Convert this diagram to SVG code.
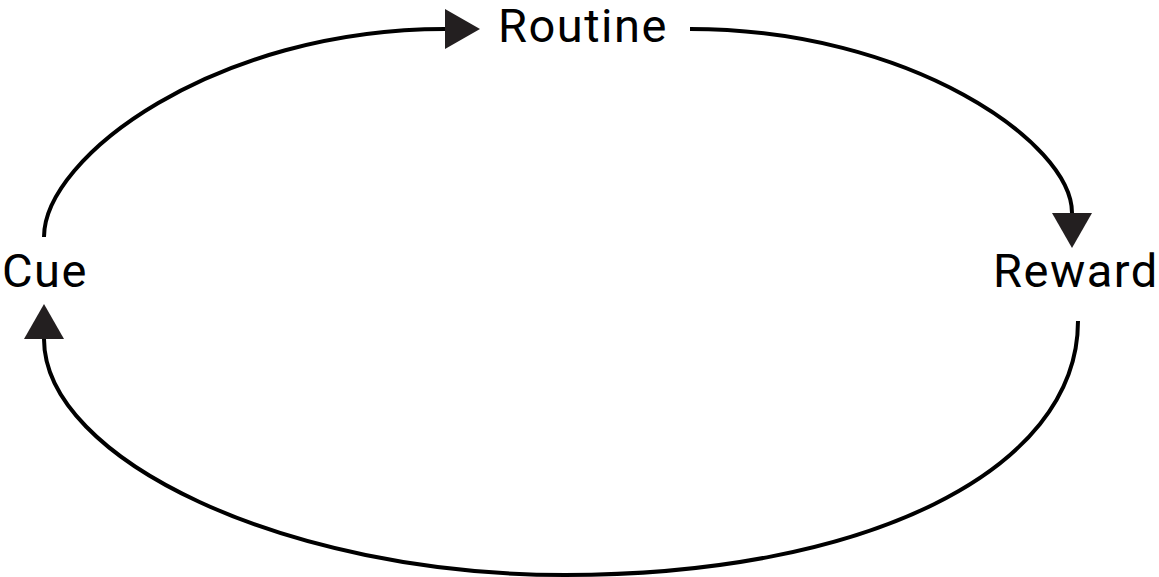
<svg xmlns="http://www.w3.org/2000/svg" width="1159" height="577" viewBox="0 0 1159 577">
<style>
.lbl{font-family:Roboto,"Liberation Sans",sans-serif;font-size:47px;letter-spacing:1.5px;fill:#000;}
.edge{fill:none;stroke:#000;stroke-width:4;}
</style>
<defs>
<marker id="ah" markerUnits="userSpaceOnUse" viewBox="0 -21 36 42" refX="0" refY="0" markerWidth="36" markerHeight="42" orient="auto">
<path d="M0,-20 L35,0 L0,20 Z" fill="#231f20"/>
</marker>
</defs>
<rect width="1159" height="577" fill="#fff"/>
<g id="connectors">
<path id="e1" class="edge" d="M44,237 C44,157 215,29 445,29" marker-end="url(#ah)"/>
<path id="e2" class="edge" d="M690,29 C910,29 1072,143 1072,213" marker-end="url(#ah)"/>
<path id="e3" class="edge" d="M1078,321 C1078,471 865,575 565,575 C285,575 44,459 44,339" marker-end="url(#ah)"/>
</g>
<g id="node-routine"><text class="lbl" x="498" y="42">Routine</text></g>
<g id="node-cue"><text class="lbl" x="2" y="287">Cue</text></g>
<g id="node-reward"><text class="lbl" x="993" y="287">Reward</text></g>
</svg>
